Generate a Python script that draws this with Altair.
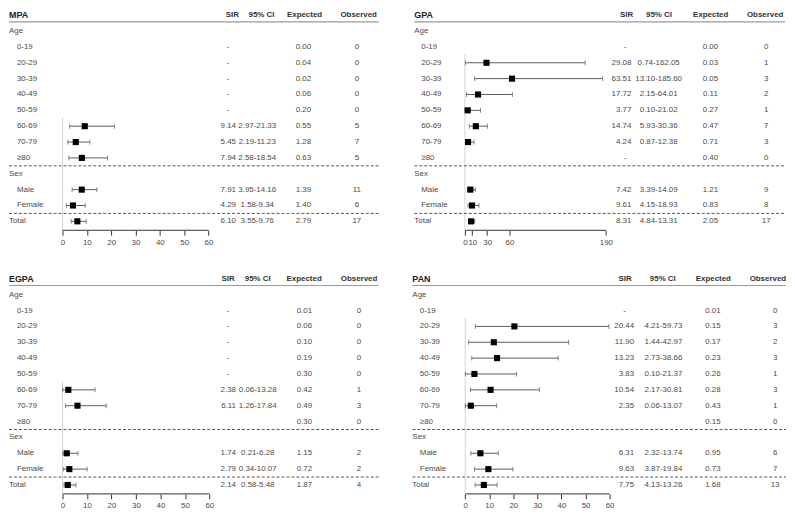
import altair as alt
import pandas as pd
import numpy as np

# ---------------- data ----------------
ROW_LABELS = ["0-19", "20-29", "30-39", "40-49", "50-59", "60-69", "70-79", "≥80",
              "Male", "Female", "Total"]
GROUP_LABELS = ["Age", "Sex"]
HEADERS = ["SIR", "95% CI", "Expected", "Observed"]

MPA_SIR = ["-", "-", "-", "-", "-", "9.14", "5.45", "7.94", "7.91", "4.29", "6.10"]
MPA_CI = ["", "", "", "", "", "2.97-21.33", "2.19-11.23", "2.58-18.54", "3.95-14.16", "1.58-9.34", "3.55-9.76"]
MPA_EXP = ["0.00", "0.04", "0.02", "0.06", "0.20", "0.55", "1.28", "0.63", "1.39", "1.40", "2.79"]
MPA_OBS = [0, 0, 0, 0, 0, 5, 7, 5, 11, 6, 17]

GPA_SIR = ["-", "29.08", "63.51", "17.72", "3.77", "14.74", "4.24", "-", "7.42", "9.61", "8.31"]
GPA_CI = ["", "0.74-162.05", "13.10-185.60", "2.15-64.01", "0.10-21.02", "5.93-30.36", "0.87-12.38", "",
          "3.39-14.09", "4.15-18.93", "4.84-13.31"]
GPA_EXP = ["0.00", "0.03", "0.05", "0.11", "0.27", "0.47", "0.71", "0.40", "1.21", "0.83", "2.05"]
GPA_OBS = [0, 1, 3, 2, 1, 7, 3, 0, 9, 8, 17]

EGPA_SIR = ["-", "-", "-", "-", "-", "2.38", "6.11", "", "1.74", "2.79", "2.14"]
EGPA_CI = ["", "", "", "", "", "0.06-13.28", "1.26-17.84", "", "0.21-6.28", "0.34-10.07", "0.58-5.48"]
EGPA_EXP = ["0.01", "0.06", "0.10", "0.19", "0.30", "0.42", "0.49", "0.30", "1.15", "0.72", "1.87"]
EGPA_OBS = [0, 0, 0, 0, 0, 1, 3, 0, 2, 2, 4]

PAN_SIR = ["-", "20.44", "11.90", "13.23", "3.83", "10.54", "2.35", "", "6.31", "9.63", "7.75"]
PAN_CI = ["", "4.21-59.73", "1.44-42.97", "2.73-38.66", "0.10-21.37", "2.17-30.81", "0.06-13.07", "",
          "2.32-13.74", "3.87-19.84", "4.13-13.26"]
PAN_EXP = ["0.01", "0.15", "0.17", "0.23", "0.26", "0.28", "0.43", "0.15", "0.95", "0.73", "1.68"]
PAN_OBS = [0, 3, 2, 3, 1, 3, 1, 0, 6, 7, 13]

TICKS_STD = [0, 10, 20, 30, 40, 50, 60]
TICKS_GPA = [0, 10, 30, 60, 190]

# ---------------- layout ----------------
FONT = "Liberation Sans"
TXT = "#4d4b47"
HDR = "#333333"
H = 222
ROW_PX = 16.0
Y_TOP = -5.0 / ROW_PX
Y_BOT = 13 + 9.0 / ROW_PX

LAYOUTS = {
    "MPA": dict(W=373, zero=54, maxpx=201.3, sir_r=229, dash_c=220.7, ci_c=250.5, exp_c=297, obs_c=351,
                h_sir=225.3, h_ci=254.8, h_exp=298.2, h_obs=352.8, indent=8),
    "GPA": dict(W=374, zero=51, maxpx=193.3, sir_r=219, dash_c=212.7, ci_c=246.5, exp_c=298.7, obs_c=355,
                h_sir=214.2, h_ci=246.8, h_exp=299, h_obs=354, indent=7),
    "EGPA": dict(W=373, zero=54, maxpx=202.3, sir_r=229, dash_c=220.7, ci_c=251, exp_c=298, obs_c=353,
                 h_sir=221, h_ci=251, h_exp=297.8, h_obs=353.2, indent=8),
    "PAN": dict(W=377, zero=53.3, maxpx=199, sir_r=223.7, dash_c=214, ci_c=253.3, exp_c=303.3, obs_c=366,
                h_sir=214.7, h_ci=252.7, h_exp=303.7, h_obs=358.7, indent=7.5),
}


def panel(name, sir_txt, ci_txt, exp_txt, obs_vals, ticks):
    L = LAYOUTS[name]
    W = L["W"]
    n_age = 8
    item_rows = list(range(2, 2 + n_age)) + [2 + n_age + 1, 2 + n_age + 2, 2 + n_age + 3]
    group_rows = [1, 2 + n_age]
    sep_rows = [1 + n_age + 0.5, 2 + n_age + 2 + 0.5]

    df = pd.DataFrame({"row": item_rows, "label": ROW_LABELS, "sir_txt": sir_txt, "ci": ci_txt,
                       "exp": exp_txt, "obs": [str(v) for v in obs_vals]})
    df["num"] = np.where(df["sir_txt"].isin(["-", ""]), "", df["sir_txt"])
    df["dash"] = np.where(df["sir_txt"] == "-", "-", "")
    df["sir"] = pd.to_numeric(df["sir_txt"], errors="coerce")
    df["lo"] = [float(c.split("-")[0]) if c else np.nan for c in df["ci"]]
    df["hi"] = [float(c.split("-")[1]) if c else np.nan for c in df["ci"]]
    forest = df.dropna(subset=["sir"])[["row", "sir", "lo", "hi"]].copy()

    left_df = pd.DataFrame({"row": group_rows + [item_rows[-1]],
                            "label": GROUP_LABELS + [ROW_LABELS[-1]]})
    items_df = df.iloc[:-1][["row", "label"]]
    title_df = pd.DataFrame({"row": [0], "label": [name]})
    hline_df = pd.DataFrame({"row": [0.42]})
    sep_df = pd.DataFrame({"row": sep_rows})
    zero_df = pd.DataFrame({"x": [0.0], "row": [float(forest["row"].min()) - 0.55], "row2": [Y_BOT]})
    axis_df = pd.DataFrame({"a": [float(ticks[0])], "b": [float(ticks[-1])]})
    cols = df[["row", "num", "dash", "ci", "exp", "obs"]]

    k = (L["maxpx"] - L["zero"]) / ticks[-1]
    xscale = alt.Scale(domain=[-L["zero"] / k, (W - L["zero"]) / k], nice=False, zero=False)
    yscale = alt.Scale(domain=[Y_BOT, Y_TOP], nice=False, zero=False)
    yenc = alt.Y("row:Q", scale=yscale, axis=None)
    xaxis = alt.Axis(values=ticks, domain=False, grid=False, ticks=True, tickSize=5, tickColor="#333333",
                     labelFontSize=8, labelColor=TXT, labelFont=FONT, labelPadding=3, labelFlush=False,
                     labelOverlap=False, title=None)

    def txt(data, field, xpx, align="left", bold=False, size=8, color=TXT):
        return alt.Chart(data).mark_text(align=align, baseline="middle", font=FONT, fontSize=size,
                                         fontWeight="bold" if bold else "normal", color=color).encode(
            x=alt.value(xpx), y=yenc, text=f"{field}:N")

    layers = []
    # forest layers first (carry the x axis)
    layers.append(alt.Chart(axis_df).mark_rule(color="#333333", strokeWidth=1).encode(
        x=alt.X("a:Q", scale=xscale, axis=xaxis), x2="b:Q", y=alt.value(H)))
    layers.append(alt.Chart(zero_df).mark_rule(color="#d4d4d4", strokeWidth=1).encode(
        x=alt.X("x:Q", scale=xscale, axis=xaxis), y=yenc, y2="row2:Q"))
    layers.append(alt.Chart(forest).mark_rule(color="#5a5a5a", strokeWidth=1).encode(
        x=alt.X("lo:Q", scale=xscale, axis=xaxis), x2="hi:Q", y=yenc))
    layers.append(alt.Chart(forest).mark_tick(orient="vertical", size=5, thickness=1, color="#5a5a5a").encode(
        x=alt.X("lo:Q", scale=xscale, axis=xaxis), y=yenc))
    layers.append(alt.Chart(forest).mark_tick(orient="vertical", size=5, thickness=1, color="#5a5a5a").encode(
        x=alt.X("hi:Q", scale=xscale, axis=xaxis), y=yenc))
    layers.append(alt.Chart(forest).mark_point(shape="square", filled=True, size=38, color="black",
                                               opacity=1).encode(
        x=alt.X("sir:Q", scale=xscale, axis=xaxis), y=yenc))

    # table
    layers.append(txt(title_df, "label", 0, bold=True, size=9, color="#222222"))
    for h, key in zip(HEADERS, ["h_sir", "h_ci", "h_exp", "h_obs"]):
        hdf = pd.DataFrame({"row": [0], "label": [h]})
        layers.append(txt(hdf, "label", L[key], align="center", bold=True, color=HDR))
    layers.append(alt.Chart(hline_df).mark_rule(color="#9a9a9a", strokeWidth=1.2).encode(
        x=alt.value(0), x2=alt.value(W), y=yenc))
    layers.append(alt.Chart(sep_df).mark_rule(color="#555555", strokeWidth=1, strokeDash=[3, 2]).encode(
        x=alt.value(0), x2=alt.value(W), y=yenc))
    layers.append(txt(left_df, "label", 0))
    layers.append(txt(items_df, "label", L["indent"]))
    layers.append(txt(cols, "num", L["sir_r"], align="right"))
    layers.append(txt(cols, "dash", L["dash_c"], align="center"))
    layers.append(txt(cols, "ci", L["ci_c"], align="center"))
    layers.append(txt(cols, "exp", L["exp_c"], align="center"))
    layers.append(txt(cols, "obs", L["obs_c"], align="center"))

    return alt.layer(*layers).properties(width=W, height=H)


p_mpa = panel("MPA", MPA_SIR, MPA_CI, MPA_EXP, MPA_OBS, TICKS_STD)
p_gpa = panel("GPA", GPA_SIR, GPA_CI, GPA_EXP, GPA_OBS, TICKS_GPA)
p_egpa = panel("EGPA", EGPA_SIR, EGPA_CI, EGPA_EXP, EGPA_OBS, TICKS_STD)
p_pan = panel("PAN", PAN_SIR, PAN_CI, PAN_EXP, PAN_OBS, TICKS_STD)

chart = alt.vconcat(
    alt.hconcat(p_mpa, p_gpa, spacing=34),
    alt.hconcat(p_egpa, p_pan, spacing=32),
    spacing=28,
).properties(padding=0, background="white").configure_view(stroke=None)

chart.save("out.html", embed_options={"renderer": "svg", "actions": False})
